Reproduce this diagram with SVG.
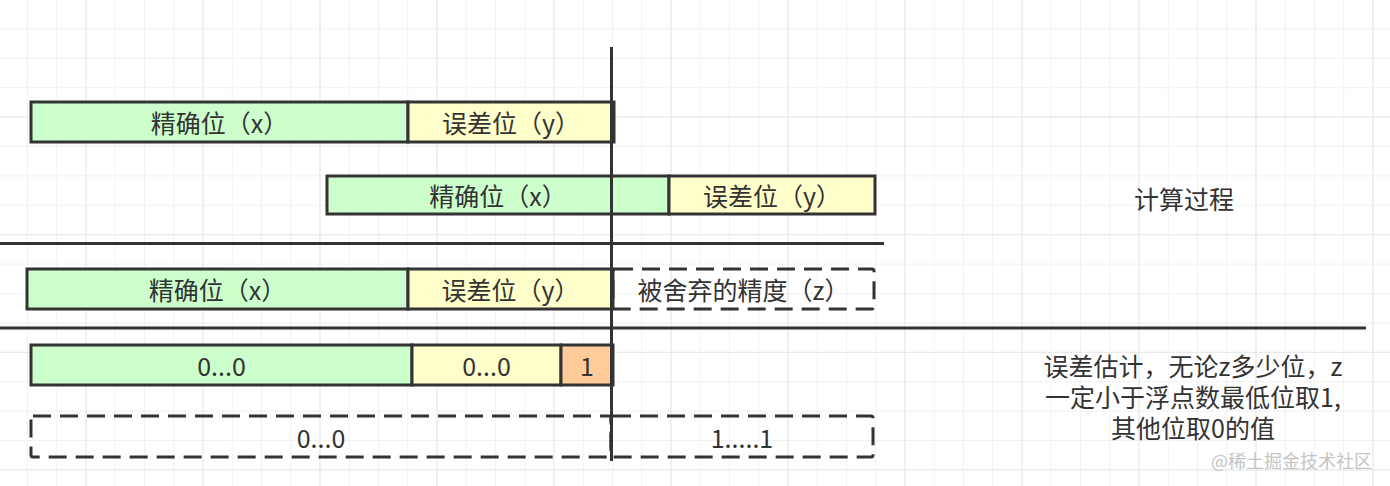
<svg xmlns="http://www.w3.org/2000/svg" width="1390" height="486" viewBox="0 0 1390 486">
<defs>
<pattern id="minor" x="27" y="0" width="29.25" height="29.4" patternUnits="userSpaceOnUse">
<path d="M0 0V29.4M0 29.4H29.25" fill="none" stroke="#eeeeee" stroke-width="1.5"/>
</pattern>
<pattern id="major" x="85.5" y="0" width="117" height="117.6" patternUnits="userSpaceOnUse">
<path d="M0 0V117.6M0 117.6H117" fill="none" stroke="#e4e4e4" stroke-width="1.5"/>
</pattern>
</defs>
<style>
.box{stroke:#333;stroke-width:3}
.g{fill:#ccffcc}
.y{fill:#ffffcc}
.o{fill:#ffcc99}
.d{fill:none;stroke:#333;stroke-width:3;stroke-dasharray:18 9}
.t{font-family:"Noto Sans CJK SC","Noto Sans",sans-serif;font-size:25px;fill:#333;text-anchor:middle;dominant-baseline:central}
.ln{stroke:#333;stroke-width:3;fill:none}
</style>
<rect width="1390" height="486" fill="#ffffff"/>
<rect width="1390" height="486" fill="url(#minor)"/>
<rect width="1390" height="486" fill="url(#major)"/>

<g id="row1-x"><rect class="box g" x="31" y="102" width="377" height="40"/><text class="t" x="219.5" y="122">精确位（x）</text></g>
<g id="row1-y"><rect class="box y" x="408" y="102" width="206" height="40"/><text class="t" x="511" y="122">误差位（y）</text></g>

<g id="row2-x"><rect class="box g" x="327" y="176" width="342" height="38"/><text class="t" x="498" y="195">精确位（x）</text></g>
<g id="row2-y"><rect class="box y" x="669" y="176" width="206" height="38"/><text class="t" x="772" y="195">误差位（y）</text></g>

<g id="label-process"><text class="t" x="1184" y="198">计算过程</text></g>

<g id="row3-x"><rect class="box g" x="27" y="269" width="381" height="40"/><text class="t" x="217.5" y="289">精确位（x）</text></g>
<g id="row3-y"><rect class="box y" x="408" y="269" width="205" height="40"/><text class="t" x="510.5" y="289">误差位（y）</text></g>
<g id="row3-z"><rect class="d" x="613" y="269" width="261" height="40" rx="2"/><text class="t" x="743.5" y="289">被舍弃的精度（z）</text></g>

<g id="row4-x"><rect class="box g" x="31" y="345" width="381" height="40"/><text class="t" x="221.5" y="365">0...0</text></g>
<g id="row4-y"><rect class="box y" x="412" y="345" width="149" height="40"/><text class="t" x="486.5" y="365">0...0</text></g>
<g id="row4-1"><rect class="box o" x="561" y="345" width="52" height="40"/><text class="t" x="587" y="365">1</text></g>

<g id="row5-0"><rect class="d" x="31" y="416" width="580" height="41" rx="2"/><text class="t" x="321" y="436.5">0...0</text></g>
<g id="row5-1"><rect class="d" x="611" y="416" width="262" height="41" rx="2"/><text class="t" x="742" y="436.5">1.....1</text></g>

<g id="label-estimate"><text class="t" x="1193" y="365"><tspan x="1193" y="365">误差估计，无论z多少位，z</tspan><tspan x="1193" y="396">一定小于浮点数最低位取1,</tspan><tspan x="1193" y="427">其他位取0的值</tspan></text></g>

<g id="lines">
<line class="ln" x1="0" y1="243.5" x2="884" y2="243.5"/>
<line class="ln" x1="0" y1="328" x2="1366" y2="328"/>
<line class="ln" x1="611.5" y1="47" x2="611.5" y2="461"/>
</g>

<g id="watermark"><text x="1372" y="460" style="font-family:'Noto Sans CJK SC',sans-serif;font-size:18px;fill:#c4c4c4;text-anchor:end;dominant-baseline:central">@稀土掘金技术社区</text></g>
</svg>
